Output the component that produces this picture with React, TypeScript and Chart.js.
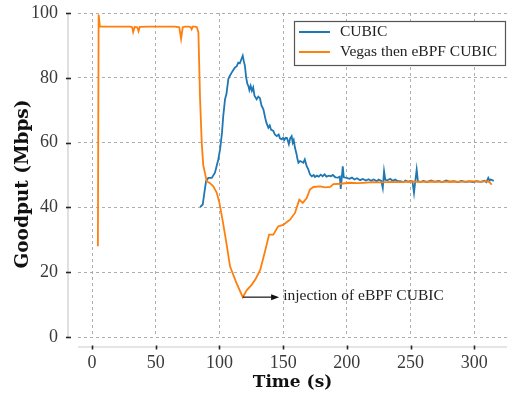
import React, { useEffect, useRef } from "react";
import { Chart, registerables } from "chart.js";

Chart.register(...registerables);

const X_TICKS = [0, 50, 100, 150, 200, 250, 300];
const Y_TICKS = [0, 20, 40, 60, 80, 100];
const X_LABEL = "Time (s)";
const Y_LABEL = "Goodput (Mbps)";
const SERIES_NAMES = ["CUBIC", "Vegas then eBPF CUBIC"];
const SERIES_COLORS = ["#1f77b4", "#ff7f0e"];
const ANNOT_TEXT = "injection of eBPF CUBIC";
const ANNOT_POINT = [118.3, 12.3];
const ANNOT_TEXT_AT = [150, 12.6];

const CUBIC_T = [
  84.8, 86.9, 88, 89.5, 91.3, 94, 96.5, 99.1, 100.5, 102,
  103, 104.4, 105.5, 107, 108, 109.6, 111, 112.2, 113.5, 114.8,
  116, 117, 118.3, 119.2, 120, 121, 122, 122.7, 123.5, 124.5,
  125.5, 126.5, 127.5, 129.2, 130.5, 131.8, 133, 134.5, 136, 137,
  138.4, 139.5, 140.5, 142.3, 143.5, 145, 146.5, 147.5, 148.9, 150,
  151, 152, 153, 154.5, 155.5, 156.7, 157.5, 158.3, 159.3, 160.5,
  161.2, 162, 163.3, 164.6, 165.9, 167, 168.5, 169.8, 171, 172.5,
  174, 175, 176.4, 178, 179.5, 181, 182.5, 184, 186, 187.5,
  189, 191, 193, 194.5, 195.2, 196, 196.8, 197.6, 199.9, 202,
  204, 206, 208, 210.4, 212.5, 215, 217, 219, 221, 223.5,
  225, 227, 228.2, 229.2, 230.2, 232, 234, 236, 238, 240,
  241.8, 244.4, 246, 248, 250, 251.5, 252.7, 253.7, 254.8, 255.8,
  258, 260, 263, 266, 269, 272, 275, 278, 281, 284,
  287, 290, 293, 296, 299, 302, 305, 308, 309.5, 311,
  312, 313, 315.3,
];
const CUBIC_V = [
  40.1, 40.9, 44, 48.1, 49.1, 49.1, 50.7, 54.8, 57.9, 63,
  68.2, 73.4, 75, 79.6, 80.5, 81.6, 82.5, 83.2, 83.5, 84.7,
  84.5, 85.5, 86.8, 85, 83.7, 80, 78, 77.5, 76.2, 77.5,
  76, 77, 74.5, 73.4, 74.2, 73.7, 71.5, 70.3, 67.5, 66,
  64.6, 65.3, 64, 63.6, 62.5, 62, 62.5, 61.3, 61, 61.5,
  60.8, 61.5, 61.4, 59.5, 61.3, 62, 60, 60.8, 58.4, 56.5,
  55, 53.8, 54.3, 54.1, 53.8, 54.8, 52.7, 51.7, 50.2, 49.6,
  50, 49.4, 49.8, 49.5, 50.1, 49.6, 50.2, 49.5, 49.8, 49.6,
  50, 49.3, 49.2, 49.5, 45.7, 49, 52.7, 49.3, 49.1, 48.8,
  49.2, 48.6, 49, 48.4, 48.8, 48.3, 48.7, 48.2, 48.6, 48.1,
  48.6, 48.2, 46, 51.2, 48.5, 48.4, 48.8, 48.2, 48.6, 48.1,
  48.1, 47.8, 48.3, 47.9, 48.2, 48, 44.5, 48, 51.7, 48,
  47.9, 48.2, 47.8, 48.3, 47.9, 48.2, 47.8, 48.3, 47.9, 48.1,
  47.8, 48.2, 47.9, 48, 47.8, 48.1, 47.9, 48.2, 47.8, 49.1,
  48.3, 48.6, 48.2,
];

const VEGAS_T = [
  4.6, 5.2, 6.2, 10, 20, 30, 31.5, 32.3, 33.5, 35.5,
  36.5, 37.5, 45, 55, 65, 68.5, 69.9, 71.2, 73, 76,
  77.5, 78.2, 79, 81, 82.3, 83.5, 84.8, 86.1, 87.3, 88.7,
  90, 92.6, 95.2, 97.9, 100, 102.5, 105.5, 108.3, 113, 118.3,
  121.5, 125.3, 128.5, 132, 135.5, 139, 142.3, 146, 150, 153,
  155.4, 159.3, 162.7, 165.4, 168.5, 171, 173.7, 179, 183, 187,
  189.4, 195, 202.5, 208, 213, 220, 227, 235, 243, 250,
  258, 266, 274, 282, 290, 298, 305, 309.5, 312, 313.7,
];
const VEGAS_V = [
  28, 99.5, 95.8, 95.8, 95.8, 95.8, 95.6, 94.1, 95.7, 95.6,
  94.4, 95.7, 95.8, 95.8, 95.8, 95.6, 92, 95.6, 95.8, 95.8,
  95.6, 95.0, 95.8, 95.8, 95.6, 94, 73.4, 60, 53, 50.5,
  48.1, 47.5, 46.5, 44.5, 41.4, 36, 29, 21.8, 17, 12.3,
  14.5, 16.1, 18, 20.7, 26, 31.6, 31.6, 34.1, 34.6, 35.5,
  36.2, 38.3, 42.4, 41.4, 42.9, 45.5, 46.3, 46.5, 46.2, 46.3,
  47.2, 47.3, 47.6, 47.5, 47.6, 47.8, 47.7, 47.9, 47.8, 48,
  47.9, 48, 47.9, 48, 47.9, 48.1, 47.9, 48.1, 47.8, 47,
];

const SERIF = "'Liberation Serif', serif";
const SERIF_BOLD = "'DejaVu Serif', serif";

const decorPlugin = {
  id: "decor",
  afterDraw(chart: any) {
    const { ctx, chartArea: a, scales } = chart;
    const xs = scales.x;
    const ys = scales.y;
    ctx.save();
    // offset spines
    ctx.strokeStyle = "#cccccc";
    ctx.lineWidth = 1.2;
    ctx.beginPath();
    ctx.moveTo(a.left - 10, a.top);
    ctx.lineTo(a.left - 10, a.bottom);
    ctx.stroke();
    ctx.beginPath();
    ctx.moveTo(a.left, a.bottom + 10);
    ctx.lineTo(a.right, a.bottom + 10);
    ctx.stroke();
    // tick marks
    ctx.strokeStyle = "#262626";
    ctx.lineWidth = 1.6;
    for (const v of X_TICKS) {
      const px = Math.round(xs.getPixelForValue(v)) + 0.5;
      ctx.beginPath();
      ctx.moveTo(px, a.bottom + 8.5);
      ctx.lineTo(px, a.bottom + 12.5);
      ctx.stroke();
    }
    for (const v of Y_TICKS) {
      const py = Math.round(ys.getPixelForValue(v)) + 0.5;
      ctx.beginPath();
      ctx.moveTo(a.left - 12, py);
      ctx.lineTo(a.left - 7, py);
      ctx.stroke();
    }
    // y axis title
    ctx.save();
    ctx.translate(23.5, (a.top + a.bottom) / 2 + 9);
    ctx.rotate(-Math.PI / 2);
    ctx.font = `bold 18.5px ${SERIF_BOLD}`;
    ctx.fillStyle = "#111";
    ctx.textAlign = "center";
    ctx.textBaseline = "middle";
    ctx.fillText(Y_LABEL, 0, 0);
    ctx.restore();
    // annotation
    const ax = xs.getPixelForValue(ANNOT_POINT[0]);
    const ay = ys.getPixelForValue(ANNOT_POINT[1]);
    const tx = xs.getPixelForValue(ANNOT_TEXT_AT[0]);
    const ty = ys.getPixelForValue(ANNOT_TEXT_AT[1]);
    const tip = tx - 4;
    ctx.strokeStyle = "#111";
    ctx.fillStyle = "#111";
    ctx.lineWidth = 1.2;
    ctx.beginPath();
    ctx.moveTo(ax, ay);
    ctx.lineTo(tip - 6, ay);
    ctx.stroke();
    ctx.beginPath();
    ctx.moveTo(tip, ay);
    ctx.lineTo(tip - 8, ay - 3);
    ctx.lineTo(tip - 8, ay + 3);
    ctx.closePath();
    ctx.fill();
    ctx.font = `15.5px ${SERIF}`;
    ctx.fillStyle = "#222";
    ctx.textAlign = "left";
    ctx.textBaseline = "middle";
    ctx.fillText(ANNOT_TEXT, tx, ty);
    // legend
    const bw = 211;
    const bh = 44;
    const bx = a.right - bw - 2;
    const by = a.top + 8;
    ctx.fillStyle = "#ffffff";
    ctx.fillRect(bx, by, bw, bh);
    ctx.strokeStyle = "#555";
    ctx.lineWidth = 1.2;
    ctx.strokeRect(bx + 0.5, by + 0.5, bw, bh);
    SERIES_NAMES.forEach((name, i) => {
      const ly = by + 11 + i * 20;
      ctx.strokeStyle = SERIES_COLORS[i];
      ctx.lineWidth = 2;
      ctx.beginPath();
      ctx.moveTo(bx + 5, ly);
      ctx.lineTo(bx + 36, ly);
      ctx.stroke();
      ctx.fillStyle = "#222";
      ctx.font = `15.5px ${SERIF}`;
      ctx.textBaseline = "middle";
      ctx.fillText(name, bx + 46, ly);
    });
    ctx.restore();
  },
};

function zeroPad(s: any) {
  s.paddingTop = 0;
  s.paddingBottom = 0;
  s.paddingLeft = 0;
  s.paddingRight = 0;
}

export default function App() {
  const ref = useRef<HTMLCanvasElement | null>(null);
  useEffect(() => {
    if (!ref.current) return;
    const cubic = CUBIC_T.map((t, i) => ({ x: t, y: CUBIC_V[i] }));
    const vegas = VEGAS_T.map((t, i) => ({ x: t, y: VEGAS_V[i] }));
    const chart = new Chart(ref.current, {
      type: "line",
      data: {
        datasets: [
          {
            label: SERIES_NAMES[0],
            data: cubic,
            borderColor: SERIES_COLORS[0],
            backgroundColor: SERIES_COLORS[0],
            borderWidth: 1.8,
            pointRadius: 0,
            tension: 0,
            order: 1,
          },
          {
            label: SERIES_NAMES[1],
            data: vegas,
            borderColor: SERIES_COLORS[1],
            backgroundColor: SERIES_COLORS[1],
            borderWidth: 1.8,
            pointRadius: 0,
            tension: 0,
            order: 0,
          },
        ],
      },
      options: {
        animation: false,
        responsive: false,
        events: [],
        layout: { padding: { left: 0, right: 1, top: 13, bottom: 0 } },
        plugins: { legend: { display: false }, tooltip: { enabled: false } },
        scales: {
          x: {
            type: "linear",
            min: -11,
            max: 325.7,
            afterFit: (s: any) => {
              s.height = 58;
              zeroPad(s);
            },
            afterBuildTicks: (s: any) => {
              s.ticks = X_TICKS.map((v) => ({ value: v }));
            },
            ticks: {
              font: { family: SERIF, size: 18 },
              color: "#3a3a3a",
              padding: 15,
              maxRotation: 0,
              autoSkip: false,
            },
            grid: { color: "#9a9a9a", lineWidth: 0.8, drawTicks: false },
            border: { display: false, dash: [3, 3] },
            title: {
              display: true,
              text: X_LABEL,
              color: "#111",
              font: { family: SERIF_BOLD, size: 17, weight: "bold" },
              padding: { top: 0, bottom: 2 },
            },
          },
          y: {
            type: "linear",
            min: 0,
            max: 100,
            afterFit: (s: any) => {
              s.width = 78;
              zeroPad(s);
            },
            afterBuildTicks: (s: any) => {
              s.ticks = Y_TICKS.map((v) => ({ value: v }));
            },
            ticks: {
              font: { family: SERIF, size: 18 },
              color: "#3a3a3a",
              padding: 20,
            },
            grid: { color: "#9a9a9a", lineWidth: 0.8, drawTicks: false },
            border: { display: false, dash: [3, 3] },
            title: { display: false, text: Y_LABEL },
          },
        },
      },
      plugins: [decorPlugin],
    });
    return () => chart.destroy();
  }, []);
  return (
    <div style={{ position: "absolute", left: 0, top: 0, width: 508, height: 395 }}>
      <canvas ref={ref} width={508} height={395} style={{ display: "block" }} />
    </div>
  );
}
